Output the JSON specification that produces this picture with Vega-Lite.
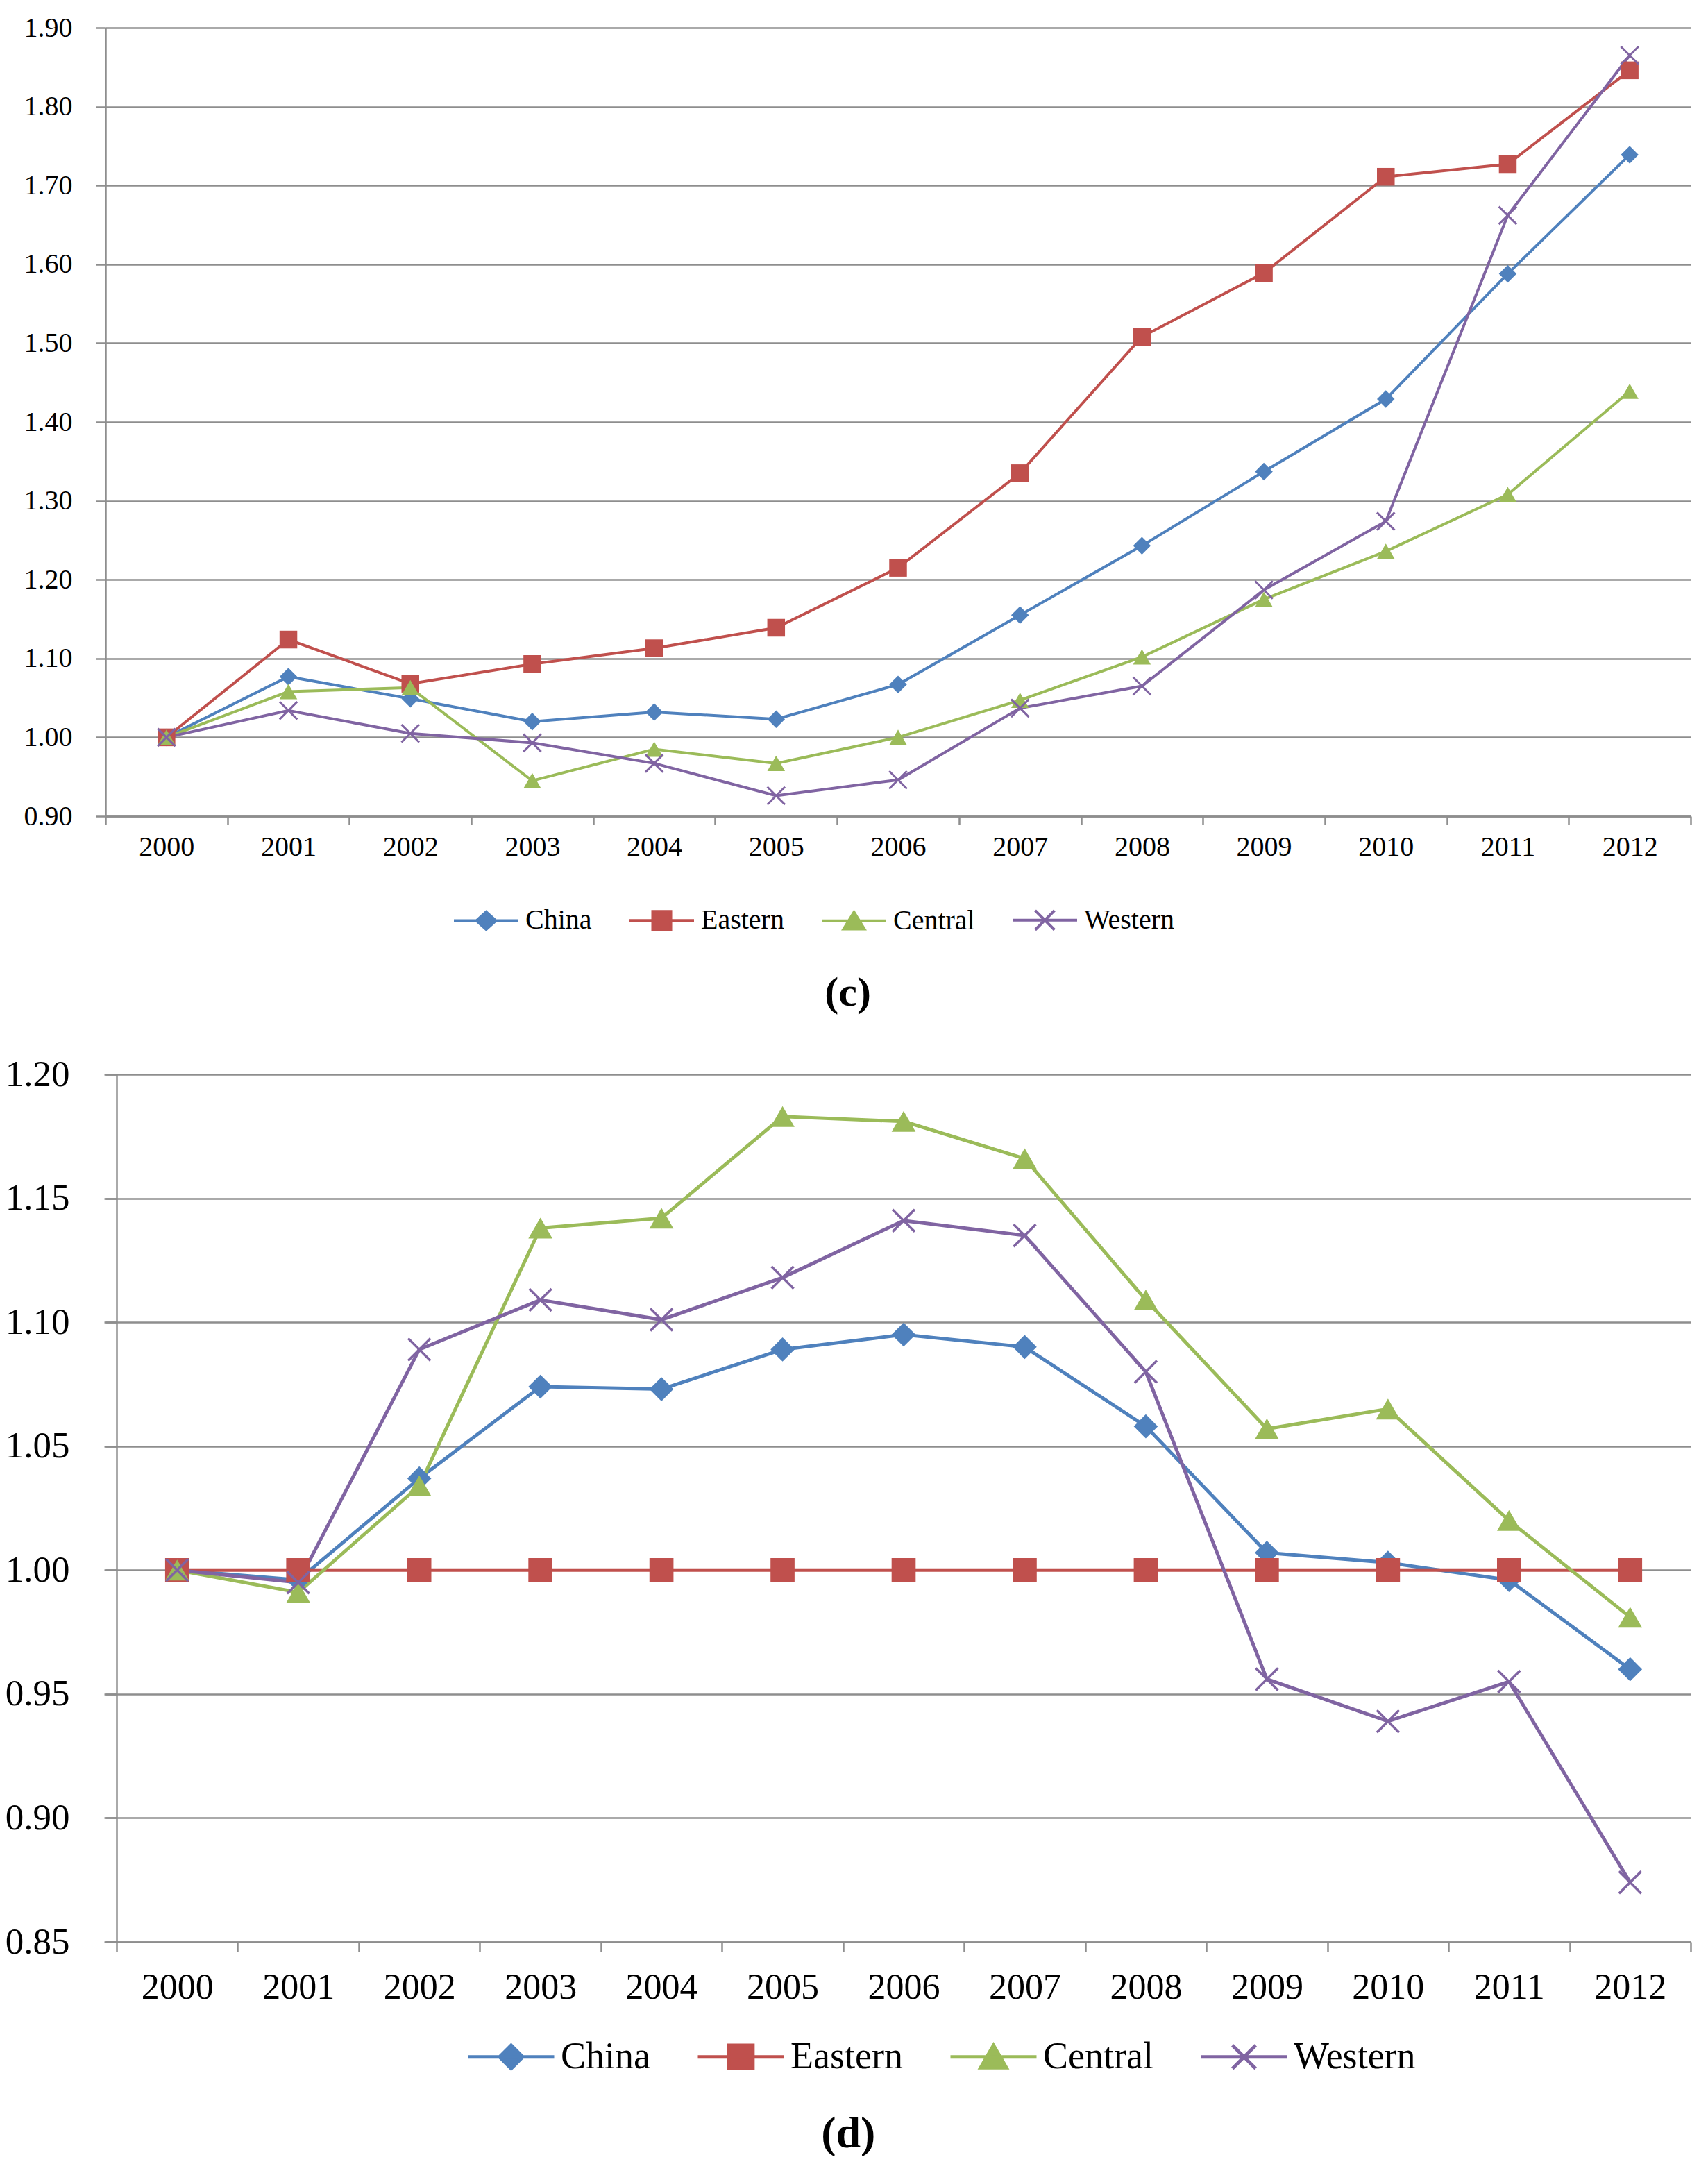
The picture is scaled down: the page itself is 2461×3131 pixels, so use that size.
{
  "$schema": "https://vega.github.io/schema/vega-lite/v6.json",
  "background": "white",
  "padding": {"left": 6, "top": 20, "right": 25, "bottom": 0},
  "spacing": 61,
  "columns": 1,
  "align": "none",
  "config": {
    "view": {"stroke": null},
    "font": "Liberation Serif",
    "title": {"font": "Liberation Serif", "color": "#000"}
  },
  "resolve": {"scale": {"color": "independent", "shape": "independent", "x": "independent", "y": "independent"}, "legend": {"color": "independent"}},
  "datasets": {
    "c": [
      {"year": "2000", "series": "China", "value": 1.000},
      {"year": "2001", "series": "China", "value": 1.077},
      {"year": "2002", "series": "China", "value": 1.049},
      {"year": "2003", "series": "China", "value": 1.020},
      {"year": "2004", "series": "China", "value": 1.032},
      {"year": "2005", "series": "China", "value": 1.023},
      {"year": "2006", "series": "China", "value": 1.067},
      {"year": "2007", "series": "China", "value": 1.155},
      {"year": "2008", "series": "China", "value": 1.243},
      {"year": "2009", "series": "China", "value": 1.337},
      {"year": "2010", "series": "China", "value": 1.429},
      {"year": "2011", "series": "China", "value": 1.588},
      {"year": "2012", "series": "China", "value": 1.739},
      {"year": "2000", "series": "Eastern", "value": 1.000},
      {"year": "2001", "series": "Eastern", "value": 1.124},
      {"year": "2002", "series": "Eastern", "value": 1.068},
      {"year": "2003", "series": "Eastern", "value": 1.093},
      {"year": "2004", "series": "Eastern", "value": 1.113},
      {"year": "2005", "series": "Eastern", "value": 1.139},
      {"year": "2006", "series": "Eastern", "value": 1.215},
      {"year": "2007", "series": "Eastern", "value": 1.335},
      {"year": "2008", "series": "Eastern", "value": 1.508},
      {"year": "2009", "series": "Eastern", "value": 1.589},
      {"year": "2010", "series": "Eastern", "value": 1.711},
      {"year": "2011", "series": "Eastern", "value": 1.727},
      {"year": "2012", "series": "Eastern", "value": 1.846},
      {"year": "2000", "series": "Central", "value": 1.000},
      {"year": "2001", "series": "Central", "value": 1.058},
      {"year": "2002", "series": "Central", "value": 1.063},
      {"year": "2003", "series": "Central", "value": 0.945},
      {"year": "2004", "series": "Central", "value": 0.985},
      {"year": "2005", "series": "Central", "value": 0.967},
      {"year": "2006", "series": "Central", "value": 1.000},
      {"year": "2007", "series": "Central", "value": 1.047},
      {"year": "2008", "series": "Central", "value": 1.102},
      {"year": "2009", "series": "Central", "value": 1.175},
      {"year": "2010", "series": "Central", "value": 1.236},
      {"year": "2011", "series": "Central", "value": 1.308},
      {"year": "2012", "series": "Central", "value": 1.439},
      {"year": "2000", "series": "Western", "value": 1.000},
      {"year": "2001", "series": "Western", "value": 1.034},
      {"year": "2002", "series": "Western", "value": 1.005},
      {"year": "2003", "series": "Western", "value": 0.993},
      {"year": "2004", "series": "Western", "value": 0.967},
      {"year": "2005", "series": "Western", "value": 0.926},
      {"year": "2006", "series": "Western", "value": 0.946},
      {"year": "2007", "series": "Western", "value": 1.037},
      {"year": "2008", "series": "Western", "value": 1.065},
      {"year": "2009", "series": "Western", "value": 1.187},
      {"year": "2010", "series": "Western", "value": 1.274},
      {"year": "2011", "series": "Western", "value": 1.662},
      {"year": "2012", "series": "Western", "value": 1.865}
    ],
    "d": [
      {"year": "2000", "series": "China", "value": 1.000},
      {"year": "2001", "series": "China", "value": 0.996},
      {"year": "2002", "series": "China", "value": 1.037},
      {"year": "2003", "series": "China", "value": 1.074},
      {"year": "2004", "series": "China", "value": 1.073},
      {"year": "2005", "series": "China", "value": 1.089},
      {"year": "2006", "series": "China", "value": 1.095},
      {"year": "2007", "series": "China", "value": 1.090},
      {"year": "2008", "series": "China", "value": 1.058},
      {"year": "2009", "series": "China", "value": 1.007},
      {"year": "2010", "series": "China", "value": 1.003},
      {"year": "2011", "series": "China", "value": 0.996},
      {"year": "2012", "series": "China", "value": 0.960},
      {"year": "2000", "series": "Eastern", "value": 1.000},
      {"year": "2001", "series": "Eastern", "value": 1.000},
      {"year": "2002", "series": "Eastern", "value": 1.000},
      {"year": "2003", "series": "Eastern", "value": 1.000},
      {"year": "2004", "series": "Eastern", "value": 1.000},
      {"year": "2005", "series": "Eastern", "value": 1.000},
      {"year": "2006", "series": "Eastern", "value": 1.000},
      {"year": "2007", "series": "Eastern", "value": 1.000},
      {"year": "2008", "series": "Eastern", "value": 1.000},
      {"year": "2009", "series": "Eastern", "value": 1.000},
      {"year": "2010", "series": "Eastern", "value": 1.000},
      {"year": "2011", "series": "Eastern", "value": 1.000},
      {"year": "2012", "series": "Eastern", "value": 1.000},
      {"year": "2000", "series": "Central", "value": 1.000},
      {"year": "2001", "series": "Central", "value": 0.991},
      {"year": "2002", "series": "Central", "value": 1.034},
      {"year": "2003", "series": "Central", "value": 1.138},
      {"year": "2004", "series": "Central", "value": 1.142},
      {"year": "2005", "series": "Central", "value": 1.183},
      {"year": "2006", "series": "Central", "value": 1.181},
      {"year": "2007", "series": "Central", "value": 1.166},
      {"year": "2008", "series": "Central", "value": 1.109},
      {"year": "2009", "series": "Central", "value": 1.057},
      {"year": "2010", "series": "Central", "value": 1.065},
      {"year": "2011", "series": "Central", "value": 1.020},
      {"year": "2012", "series": "Central", "value": 0.981},
      {"year": "2000", "series": "Western", "value": 1.000},
      {"year": "2001", "series": "Western", "value": 0.995},
      {"year": "2002", "series": "Western", "value": 1.089},
      {"year": "2003", "series": "Western", "value": 1.109},
      {"year": "2004", "series": "Western", "value": 1.101},
      {"year": "2005", "series": "Western", "value": 1.118},
      {"year": "2006", "series": "Western", "value": 1.141},
      {"year": "2007", "series": "Western", "value": 1.135},
      {"year": "2008", "series": "Western", "value": 1.080},
      {"year": "2009", "series": "Western", "value": 0.956},
      {"year": "2010", "series": "Western", "value": 0.939},
      {"year": "2011", "series": "Western", "value": 0.955},
      {"year": "2012", "series": "Western", "value": 0.874}
    ]
  },
  "concat": [
    {
      "width": 2284,
      "height": 1136,
      "data": {"name": "c"},
      "title": {"text": "(c)", "orient": "bottom", "frame": "bounds", "anchor": "middle", "fontSize": 60, "fontWeight": "bold", "offset": 54},
      "encoding": {
        "x": {"field": "year", "type": "ordinal", "scale": {"type": "band", "paddingInner": 0, "paddingOuter": 0},
          "axis": {"title": null, "labelAngle": 0, "tickBand": "extent", "tickSize": 12, "labelPadding": 12, "labelFontSize": 40, "labelFont": "Liberation Serif", "labelColor": "#000", "domainColor": "#8e8e8e", "tickColor": "#8e8e8e", "domainWidth": 2.5, "tickWidth": 2.5, "grid": false}},
        "y": {"field": "value", "type": "quantitative", "scale": {"domain": [0.9, 1.9], "nice": false, "zero": false},
          "axis": {"title": null, "values": [0.9, 1.0, 1.1, 1.2, 1.3, 1.4, 1.5, 1.6, 1.7, 1.8, 1.9], "format": ".2f", "tickSize": 14, "labelPadding": 34, "labelFontSize": 40, "labelFont": "Liberation Serif", "labelColor": "#000", "grid": true, "gridColor": "#8e8e8e", "gridWidth": 2.5, "domainColor": "#8e8e8e", "domainWidth": 2.5, "tickColor": "#8e8e8e", "tickWidth": 2.5, "minExtent": 146, "maxExtent": 146}}
      },
      "layer": [
        {
          "mark": {"type": "line", "strokeWidth": 4},
          "encoding": {
            "color": {"field": "series", "type": "nominal",
              "scale": {"domain": ["China", "Eastern", "Central", "Western"], "range": ["#4F81BD", "#C0504D", "#9BBB59", "#8064A2"]},
              "legend": {"orient": "none", "legendX": 500, "legendY": 1237, "direction": "horizontal", "title": null,
                "labelFont": "Liberation Serif", "labelFontSize": 40, "labelColor": "#000", "labelOffset": 8, "labelLimit": 500, "columnPadding": 46,
                "symbolSize": 8649, "symbolStrokeWidth": 4,
                "encode": {"symbols": {"update": {
                  "shape": {"signal": "datum.value==='China'?'M-1,0L1,0M0,-0.27L0.3,0L0,0.27L-0.3,0Z':datum.value==='Eastern'?'M-1,0L1,0M-0.28,-0.28L0.28,-0.28L0.28,0.28L-0.28,0.28Z':datum.value==='Central'?'M-1,0L1,0M0,-0.27L0.32,0.25L-0.32,0.25Z':'M-1,0L1,0M-0.3,-0.3L0.3,0.3M-0.3,0.3L0.3,-0.3'"},
                  "fill": {"signal": "datum.value==='China'?'#4F81BD':datum.value==='Eastern'?'#C0504D':datum.value==='Central'?'#9BBB59':'transparent'"},
                  "stroke": {"signal": "datum.value==='China'?'#4F81BD':datum.value==='Eastern'?'#C0504D':datum.value==='Central'?'#9BBB59':'#8064A2'"},
                  "opacity": {"value": 1}
                }}}
              }}
          }
        },
        {
          "transform": [{"filter": "datum.series !== 'Western'"}],
          "mark": {"type": "point", "filled": true, "size": 650, "opacity": 1},
          "encoding": {
            "color": {"field": "series", "type": "nominal",
              "scale": {"domain": ["China", "Eastern", "Central", "Western"], "range": ["#4F81BD", "#C0504D", "#9BBB59", "#8064A2"]}, "legend": null},
            "shape": {"field": "series", "type": "nominal",
              "scale": {"domain": ["China", "Eastern", "Central"], "range": ["diamond", "square", "triangle-up"]}, "legend": null}
          }
        },
        {
          "transform": [{"filter": "datum.series === 'Western'"}],
          "mark": {"type": "point", "shape": "M-1,-1L1,1M-1,1L1,-1", "filled": false, "size": 650, "strokeWidth": 3, "color": "#8064A2", "opacity": 1},
          "encoding": {}
        }
      ]
    },
    {
      "width": 2284,
      "height": 1250,
      "data": {"name": "d"},
      "title": {"text": "(d)", "orient": "bottom", "frame": "bounds", "anchor": "middle", "fontSize": 64, "fontWeight": "bold", "offset": 52},
      "encoding": {
        "x": {"field": "year", "type": "ordinal", "scale": {"type": "band", "paddingInner": 0, "paddingOuter": 0.0459, "align": 1},
          "axis": {"title": null, "labelAngle": 0, "tickBand": "extent", "tickSize": 14, "labelPadding": 26, "labelFontSize": 52, "labelFont": "Liberation Serif", "labelColor": "#000", "domainColor": "#8e8e8e", "tickColor": "#8e8e8e", "domainWidth": 2.5, "tickWidth": 2.5, "grid": false}},
        "y": {"field": "value", "type": "quantitative", "scale": {"domain": [0.85, 1.2], "nice": false, "zero": false},
          "axis": {"title": null, "offset": -16, "values": [0.85, 0.9, 0.95, 1.0, 1.05, 1.1, 1.15, 1.2], "format": ".2f", "tickSize": 18, "labelPadding": 50, "labelFontSize": 53, "labelFont": "Liberation Serif", "labelColor": "#000", "grid": true, "gridColor": "#8e8e8e", "gridWidth": 2.5, "domainColor": "#8e8e8e", "domainWidth": 2.5, "tickColor": "#8e8e8e", "tickWidth": 2.5, "minExtent": 146, "maxExtent": 146}}
      },
      "layer": [
        {
          "mark": {"type": "line", "strokeWidth": 5},
          "encoding": {
            "color": {"field": "series", "type": "nominal",
              "scale": {"domain": ["China", "Eastern", "Central", "Western"], "range": ["#4F81BD", "#C0504D", "#9BBB59", "#8064A2"]},
              "legend": {"orient": "none", "legendX": 520, "legendY": 1351, "direction": "horizontal", "title": null,
                "labelFont": "Liberation Serif", "labelFontSize": 54, "labelColor": "#000", "labelOffset": 7, "labelLimit": 600, "columnPadding": 58,
                "symbolSize": 15376, "symbolStrokeWidth": 5,
                "encode": {"symbols": {"update": {
                  "shape": {"signal": "datum.value==='China'?'M-1,0L1,0M0,-0.27L0.27,0L0,0.27L-0.27,0Z':datum.value==='Eastern'?'M-1,0L1,0M-0.28,-0.27L0.28,-0.27L0.28,0.27L-0.28,0.27Z':datum.value==='Central'?'M-1,0L1,0M0,-0.27L0.3,0.25L-0.3,0.25Z':'M-1,0L1,0M-0.27,-0.27L0.27,0.27M-0.27,0.27L0.27,-0.27'"},
                  "fill": {"signal": "datum.value==='China'?'#4F81BD':datum.value==='Eastern'?'#C0504D':datum.value==='Central'?'#9BBB59':'transparent'"},
                  "stroke": {"signal": "datum.value==='China'?'#4F81BD':datum.value==='Eastern'?'#C0504D':datum.value==='Central'?'#9BBB59':'#8064A2'"},
                  "opacity": {"value": 1}
                }}}
              }}
          }
        },
        {
          "transform": [{"filter": "datum.series !== 'Western'"}],
          "mark": {"type": "point", "filled": true, "size": 1200, "opacity": 1},
          "encoding": {
            "color": {"field": "series", "type": "nominal",
              "scale": {"domain": ["China", "Eastern", "Central", "Western"], "range": ["#4F81BD", "#C0504D", "#9BBB59", "#8064A2"]}, "legend": null},
            "shape": {"field": "series", "type": "nominal",
              "scale": {"domain": ["China", "Eastern", "Central"], "range": ["diamond", "square", "triangle-up"]}, "legend": null}
          }
        },
        {
          "transform": [{"filter": "datum.series === 'Western'"}],
          "mark": {"type": "point", "shape": "M-1,-1L1,1M-1,1L1,-1", "filled": false, "size": 1024, "strokeWidth": 3.5, "color": "#8064A2", "opacity": 1},
          "encoding": {}
        }
      ]
    }
  ]
}
